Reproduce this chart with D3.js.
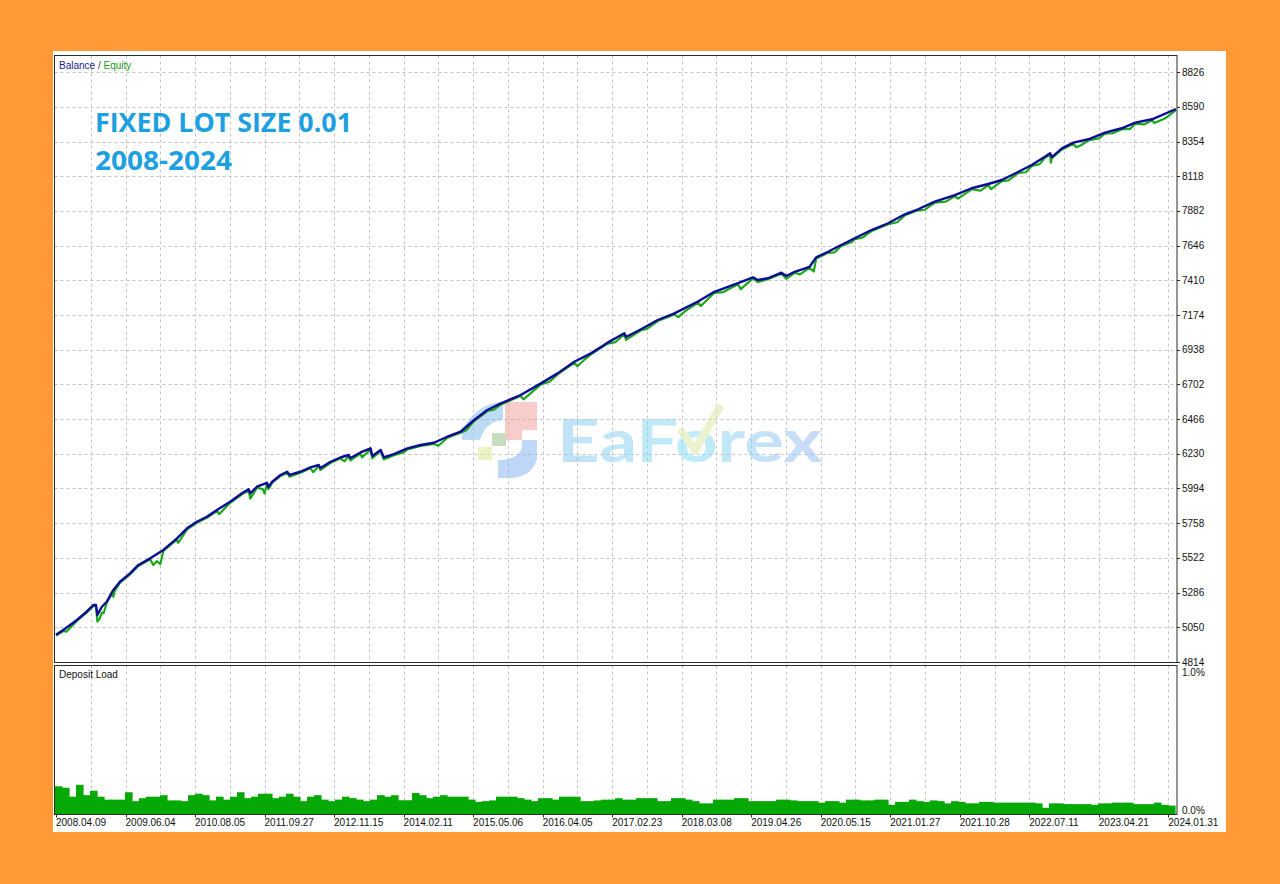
<!DOCTYPE html>
<html><head><meta charset="utf-8">
<script src="https://cdn.jsdelivr.net/npm/d3@7"></script>
<style>html,body{margin:0;padding:0;background:#FF9A36;}svg{display:block;}</style>
</head><body>
<svg id="c" width="1280" height="884"></svg>
<script>
// ---- data ----
const yTicks = [4814,5050,5286,5522,5758,5994,6230,6466,6702,6938,7174,7410,7646,7882,8118,8354,8590,8826];
const xTickLabels = ["2008.04.09","2009.06.04","2010.08.05","2011.09.27","2012.11.15","2014.02.11","2015.05.06","2016.04.05","2017.02.23","2018.03.08","2019.04.26","2020.05.15","2021.01.27","2021.10.28","2022.07.11","2023.04.21","2024.01.31"];
const xTickPos = [0,200,400,600,800,1000,1200,1400,1600,1800,2000,2200,2400,2600,2800,3000,3200];
const balanceIdx = [0,21,60,88,108,115,119,132,146,165,184,213,237,271,309,348,377,405,434,463,501,535,554,559,578,607,611,622,646,665,672,703,732,756,761,790,818,842,847,876,905,910,934,943,972,1011,1049,1087,1126,1164,1203,1241,1280,1337,1395,1443,1491,1539,1587,1635,1640,1683,1731,1779,1847,1894,1962,2005,2019,2048,2087,2101,2125,2168,2187,2221,2259,2298,2346,2394,2442,2480,2528,2586,2634,2682,2721,2769,2807,2845,2860,2865,2894,2927,2970,3018,3066,3105,3153,3222];
const balanceVal = [5000,5032,5100,5156,5202,5202,5134,5190,5224,5304,5360,5417,5474,5519,5576,5655,5723,5768,5802,5848,5904,5961,5989,5961,6006,6033,6004,6040,6086,6108,6086,6108,6138,6154,6133,6176,6205,6222,6201,6239,6267,6215,6256,6206,6228,6267,6290,6305,6346,6380,6460,6528,6573,6630,6709,6777,6856,6913,6986,7050,7024,7077,7140,7185,7266,7332,7390,7430,7412,7424,7462,7439,7468,7502,7566,7604,7650,7696,7752,7798,7859,7893,7945,7990,8036,8065,8092,8148,8194,8250,8274,8248,8307,8346,8369,8414,8444,8482,8505,8575];
const equityIdx = [0,21,30,60,88,108,115,119,126,132,137,146,160,165,168,184,213,237,271,280,290,300,309,348,352,377,405,434,463,470,501,535,554,559,578,595,600,607,611,622,646,665,672,703,732,740,756,761,790,818,830,842,847,876,880,905,910,934,943,972,1000,1011,1049,1087,1100,1126,1164,1180,1203,1241,1260,1280,1337,1345,1395,1420,1443,1491,1500,1520,1539,1587,1610,1635,1640,1683,1700,1731,1779,1790,1810,1847,1855,1894,1920,1962,1970,2005,2019,2048,2087,2101,2125,2140,2168,2180,2187,2221,2240,2259,2290,2298,2320,2346,2394,2420,2442,2480,2500,2528,2560,2586,2595,2634,2660,2682,2690,2721,2740,2769,2790,2807,2830,2845,2860,2862,2865,2894,2927,2935,2950,2970,3000,3018,3040,3066,3090,3105,3130,3153,3160,3190,3222];
const equityVal = [4993,5025,5020,5093,5149,5195,5195,5088,5110,5150,5145,5217,5275,5258,5295,5353,5410,5467,5512,5474,5500,5480,5569,5648,5625,5716,5761,5795,5841,5820,5897,5954,5982,5925,5999,5990,5960,6026,5990,6033,6079,6101,6075,6101,6131,6105,6147,6120,6169,6198,6178,6215,6185,6232,6205,6260,6200,6249,6192,6221,6240,6260,6283,6298,6285,6339,6373,6390,6453,6521,6530,6566,6623,6600,6702,6720,6770,6849,6825,6870,6906,6979,6990,7043,7005,7070,7080,7133,7178,7160,7200,7259,7235,7325,7330,7383,7350,7423,7398,7417,7455,7420,7461,7450,7495,7470,7559,7597,7600,7643,7670,7689,7700,7745,7791,7805,7852,7886,7890,7938,7945,7983,7965,8029,8020,8058,8030,8085,8090,8141,8145,8187,8200,8243,8265,8210,8241,8300,8339,8315,8330,8362,8375,8407,8410,8437,8440,8475,8470,8498,8480,8510,8568];
const depositLoad = [0.19,0.18,0.12,0.20,0.13,0.16,0.12,0.10,0.10,0.10,0.15,0.09,0.11,0.12,0.12,0.13,0.095,0.095,0.09,0.13,0.14,0.13,0.095,0.12,0.10,0.12,0.15,0.11,0.12,0.14,0.14,0.11,0.12,0.14,0.12,0.09,0.12,0.13,0.10,0.09,0.10,0.12,0.11,0.10,0.09,0.10,0.13,0.12,0.13,
0.096,0.096,0.145,0.13,0.11,0.12,0.13,0.12,0.12,0.12,0.10,0.085,0.09,0.095,0.12,0.12,0.12,0.11,0.10,0.09,0.11,0.11,0.10,0.12,0.12,0.12,0.09,0.09,0.095,0.10,0.10,0.11,0.10,0.10,0.11,0.11,0.11,0.09,0.09,0.11,0.11,0.10,0.09,0.075,0.075,0.10,0.10,0.10,0.11,0.11,0.09,0.09,0.09,0.09,0.10,0.10,0.095,0.09,0.09,0.09,
0.08,0.09,0.09,0.08,0.10,0.10,0.095,0.095,0.10,0.10,0.065,0.085,0.085,0.10,0.09,0.085,0.095,0.09,0.075,0.09,0.085,0.075,0.075,0.085,0.085,0.08,0.08,0.08,0.08,0.08,0.08,0.075,0.045,0.075,0.075,0.07,0.07,0.07,0.07,0.065,0.075,0.075,0.08,0.08,0.08,0.07,0.07,0.07,0.08,0.065,0.06];
const loadTicks = [0,1.0];

// ---- layout ----
const svg = d3.select("#c");
const L = 54.5, R = 1177, T1 = 55.5, B1 = 662.5, T2 = 665.5, B2 = 814.5;
const x = d3.scaleLinear().domain([0,3225]).range([56,1177]);
const y = d3.scaleLinear().domain([4814,8826]).range([662,72.1]);
const yl = d3.scaleLinear().domain([0,1]).range([814.5,666]);
const font = "'Liberation Sans', Arial, sans-serif";

svg.append("rect").attr("x",53).attr("y",51).attr("width",1173).attr("height",781).attr("fill","#fff");

// grid
const grid = svg.append("g").attr("stroke","#c4c4c4").attr("stroke-dasharray","3,3").attr("stroke-width",1);
const vgrid = d3.range(1,33).map(k=>k*100);
vgrid.forEach(v=>{
  const px = Math.round(x(v))+0.5;
  grid.append("line").attr("x1",px).attr("x2",px).attr("y1",T1).attr("y2",B1);
  grid.append("line").attr("x1",px).attr("x2",px).attr("y1",T2).attr("y2",B2);
});
yTicks.slice(1).forEach(v=>{
  const py = Math.round(y(v))+0.5;
  grid.append("line").attr("x1",L).attr("x2",R).attr("y1",py).attr("y2",py);
});

// watermark
const wm = svg.append("g").attr("opacity",0.5);
const defs = svg.append("defs");
const lg = defs.append("linearGradient").attr("id","wmg").attr("x1","0").attr("x2","1").attr("y1","0").attr("y2","0");
lg.append("stop").attr("offset","0").attr("stop-color","#86c4ee");
lg.append("stop").attr("offset","0.5").attr("stop-color","#7fdcf3");
lg.append("stop").attr("offset","1").attr("stop-color","#94b5f2");
wm.append("path").attr("d","M462,432 C470,412 488,402 503,402 L503,420 C492,421 484,427 480,440 L462,440 Z").attr("fill","#7fb8ee");
wm.append("path").attr("d","M505,402 L537,402 L537,430 L522,430 L522,440 L505,440 Z").attr("fill","#f59a9a");
wm.append("rect").attr("x",492).attr("y",433).attr("width",14).attr("height",13).attr("fill","#8fbf80");
wm.append("rect").attr("x",478).attr("y",447).attr("width",14).attr("height",13).attr("fill","#d8e88a");
wm.append("path").attr("d","M522,440 L537,440 L537,455 C537,468 526,478 510,478 L498,478 L498,460 C512,460 522,455 522,445 Z").attr("fill","#7fb0f0");
wm.append("text").attr("x",557).attr("y",462).attr("font-family","Lato, 'Open Sans', sans-serif").attr("font-weight","bold")
  .attr("font-size",60).attr("textLength",265).attr("lengthAdjust","spacingAndGlyphs").attr("fill","url(#wmg)").text("EaForex");
wm.append("path").attr("d","M682,432 L695,450 L719,409").attr("fill","none").attr("stroke","#d6e6a0").attr("stroke-width",8).attr("stroke-linecap","round").attr("stroke-linejoin","round");

// lines
const line = d3.line().x(d=>x(d[0])).y(d=>y(d[1]));
svg.append("path").datum(d3.zip(equityIdx,equityVal)).attr("d",line).attr("fill","none").attr("stroke","#1aa81a").attr("stroke-width",2.2).attr("stroke-linejoin","round");
svg.append("path").datum(d3.zip(balanceIdx,balanceVal)).attr("d",line).attr("fill","none").attr("stroke","#0c0c94").attr("stroke-width",2.4).attr("stroke-linejoin","round");

// deposit load bars
const xb = d3.scaleBand().domain(d3.range(depositLoad.length)).range([55,1175]).padding(0);
svg.append("g").selectAll("rect").data(depositLoad).join("rect")
  .attr("x",(d,i)=>xb(i)).attr("width",xb.bandwidth()+0.6)
  .attr("y",d=>yl(d)).attr("height",d=>yl(0)-yl(d)).attr("fill","#06a806");

// frames
const fr = svg.append("g").attr("stroke","#2a2a2a").attr("fill","none").attr("stroke-width",1);
fr.append("rect").attr("x",L).attr("y",T1).attr("width",R-L).attr("height",B1-T1);
fr.append("rect").attr("x",L).attr("y",T2).attr("width",R-L).attr("height",B2-T2);

// right axis
const ax = svg.append("g").attr("font-family",font).attr("font-size",10).attr("fill","#111");
yTicks.forEach(v=>{
  const py = y(v);
  ax.append("line").attr("x1",R).attr("x2",R+3).attr("y1",Math.round(py)+0.5).attr("y2",Math.round(py)+0.5).attr("stroke","#2a2a2a");
  ax.append("text").attr("x",1182).attr("y",py).attr("dy","0.35em").text(v);
});
ax.append("text").attr("x",1182).attr("y",672).attr("dy","0.35em").text(loadTicks[1].toFixed(1)+"%");
ax.append("text").attr("x",1182).attr("y",810.5).attr("dy","0.35em").text(loadTicks[0].toFixed(1)+"%");

// x axis
xTickPos.forEach((v,i)=>{
  const px = Math.round(x(v))+0.5;
  ax.append("line").attr("x1",px).attr("x2",px).attr("y1",B2).attr("y2",B2+3).attr("stroke","#2a2a2a");
  ax.append("text").attr("x",x(v)).attr("y",822.5).attr("dy","0.35em").text(xTickLabels[i]);
});

// labels
const lbl = svg.append("text").attr("x",59).attr("y",65).attr("dy","0.35em").attr("font-family",font).attr("font-size",10);
lbl.append("tspan").attr("fill","#1a1a8a").text("Balance");
lbl.append("tspan").attr("fill","#333").text(" / ");
lbl.append("tspan").attr("fill","#1a9a1a").text("Equity");
svg.append("text").attr("x",59).attr("y",674).attr("dy","0.35em").attr("font-family",font).attr("font-size",10).attr("fill","#111").text("Deposit Load");

// title
const tt = svg.append("g").attr("font-family","'Open Sans', sans-serif").attr("font-weight","bold").attr("font-size",26).attr("fill","#1da0e2");
tt.append("text").attr("x",95).attr("y",132).attr("textLength",257).attr("lengthAdjust","spacingAndGlyphs").text("FIXED LOT SIZE 0.01");
tt.append("text").attr("x",95).attr("y",170).attr("textLength",137).attr("lengthAdjust","spacingAndGlyphs").text("2008-2024");
</script>
</body></html>
